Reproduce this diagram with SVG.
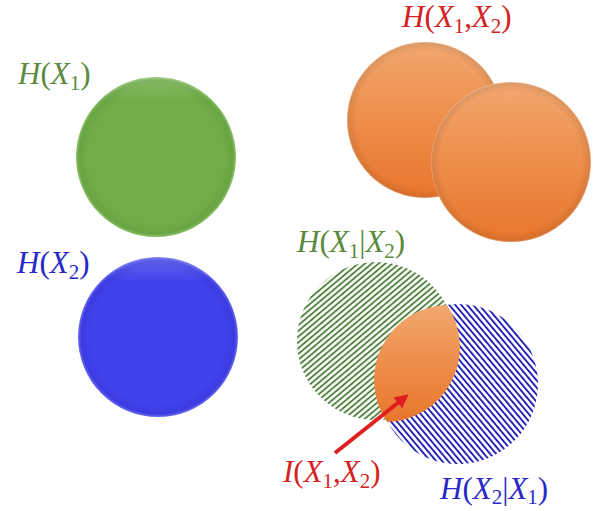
<svg xmlns="http://www.w3.org/2000/svg" width="600" height="511" viewBox="0 0 600 511">
<defs>
<style>
.lbl{font-family:"Liberation Serif","DejaVu Serif",serif;font-size:31px}
.it{font-style:italic}
.sub{font-size:21px}
.green{fill:#5a8a3c}
.blue{fill:#2828c8}
.red{fill:#d42222}
</style>
<radialGradient id="gGreen" cx="0.5" cy="0.5" r="0.5">
<stop offset="0.85" stop-color="#70ad47"/>
<stop offset="0.96" stop-color="#68a442"/>
<stop offset="1" stop-color="#8cc068"/>
</radialGradient>
<radialGradient id="gBlue" cx="0.5" cy="0.5" r="0.5">
<stop offset="0.85" stop-color="#4242ec"/>
<stop offset="0.96" stop-color="#3a3ae0"/>
<stop offset="1" stop-color="#6a6af2"/>
</radialGradient>
<linearGradient id="gOrange" x1="0" y1="0" x2="0" y2="1">
<stop offset="0" stop-color="#f2a870"/>
<stop offset="0.5" stop-color="#ee8d4a"/>
<stop offset="1" stop-color="#e8762c"/>
</linearGradient>
<radialGradient id="gRim" cx="0.5" cy="0.5" r="0.5">
<stop offset="0.88" stop-color="#000" stop-opacity="0"/>
<stop offset="0.97" stop-color="#000" stop-opacity="0.07"/>
<stop offset="1" stop-color="#fff" stop-opacity="0.3"/>
</radialGradient>
<linearGradient id="gTop" x1="0" y1="0" x2="0" y2="1">
<stop offset="0" stop-color="#fff" stop-opacity="0.2"/>
<stop offset="0.15" stop-color="#fff" stop-opacity="0"/>
</linearGradient>
<pattern id="pGreen" patternUnits="userSpaceOnUse" width="4.4" height="10" patternTransform="rotate(50)">
<rect width="4.4" height="10" fill="#f5f9f0"/>
<rect width="1.7" height="10" fill="#4e7e40"/>
</pattern>
<pattern id="pBlue" patternUnits="userSpaceOnUse" width="4.6" height="10" patternTransform="rotate(-40)">
<rect width="4.6" height="10" fill="#ffffff"/>
<rect width="1.9" height="10" fill="#2020b4"/>
</pattern>
<filter id="soft" x="-10%" y="-10%" width="120%" height="120%">
<feGaussianBlur stdDeviation="0.7"/>
</filter>
<marker id="ah" markerWidth="14" markerHeight="14" refX="8" refY="7" orient="auto" markerUnits="userSpaceOnUse" viewBox="0 0 14 14">
<path d="M0,0 L14,7 L0,14 z" fill="#e02020"/>
</marker>
</defs>
<rect width="600" height="511" fill="#ffffff"/>

<g id="hx1">
<g filter="url(#soft)">
<circle cx="156" cy="157" r="80" fill="url(#gGreen)"/>
<circle cx="156" cy="157" r="80" fill="url(#gTop)"/>
</g>
<text x="18" y="84" class="lbl green"><tspan class="it">H</tspan>(<tspan class="it">X</tspan><tspan class="sub" dy="6">1</tspan><tspan dy="-6">)</tspan></text>
</g>

<g id="hx2">
<g filter="url(#soft)">
<circle cx="158" cy="337" r="80" fill="url(#gBlue)"/>
<circle cx="158" cy="337" r="80" fill="url(#gTop)"/>
</g>
<text x="17" y="273" class="lbl blue"><tspan class="it">H</tspan>(<tspan class="it">X</tspan><tspan class="sub" dy="6">2</tspan><tspan dy="-6">)</tspan></text>
</g>

<g id="hx1x2">
<g filter="url(#soft)">
<circle cx="425" cy="120" r="78" fill="url(#gOrange)"/>
<circle cx="425" cy="120" r="78" fill="url(#gRim)"/>
<circle cx="511" cy="162" r="80" fill="url(#gOrange)"/>
<circle cx="511" cy="162" r="80" fill="url(#gRim)"/>
</g>
<text x="402" y="27" class="lbl red"><tspan class="it">H</tspan>(<tspan class="it">X</tspan><tspan class="sub" dy="6">1</tspan><tspan dy="-6">,</tspan><tspan class="it">X</tspan><tspan class="sub" dy="6">2</tspan><tspan dy="-6">)</tspan></text>
</g>

<g id="hx1givenx2">
<circle cx="376" cy="341" r="79" fill="url(#pGreen)" filter="url(#soft)"/>
<text x="297" y="252" class="lbl green"><tspan class="it">H</tspan>(<tspan class="it">X</tspan><tspan class="sub" dy="6">1</tspan><tspan dy="-6">|</tspan><tspan class="it">X</tspan><tspan class="sub" dy="6">2</tspan><tspan dy="-6">)</tspan></text>
</g>

<g id="hx2givenx1">
<circle cx="458" cy="384" r="80" fill="url(#pBlue)" filter="url(#soft)"/>
<text x="440" y="499" class="lbl blue"><tspan class="it">H</tspan>(<tspan class="it">X</tspan><tspan class="sub" dy="5">2</tspan><tspan dy="-5">|</tspan><tspan class="it">X</tspan><tspan class="sub" dy="5">1</tspan><tspan dy="-5">)</tspan></text>
</g>

<g id="ix1x2">
<path d="M447,305 A75,75 0 0,1 387,422 A75,75 0 0,1 447,305 Z" fill="url(#gOrange)" filter="url(#soft)"/>
<text x="283" y="482" class="lbl red"><tspan class="it">I</tspan>(<tspan class="it">X</tspan><tspan class="sub" dy="6">1</tspan><tspan dy="-6">,</tspan><tspan class="it">X</tspan><tspan class="sub" dy="6">2</tspan><tspan dy="-6">)</tspan></text>
</g>

<g id="connectors">
<line x1="335" y1="453" x2="404" y2="398" stroke="#e02020" stroke-width="4" marker-end="url(#ah)"/>
</g>
</svg>
